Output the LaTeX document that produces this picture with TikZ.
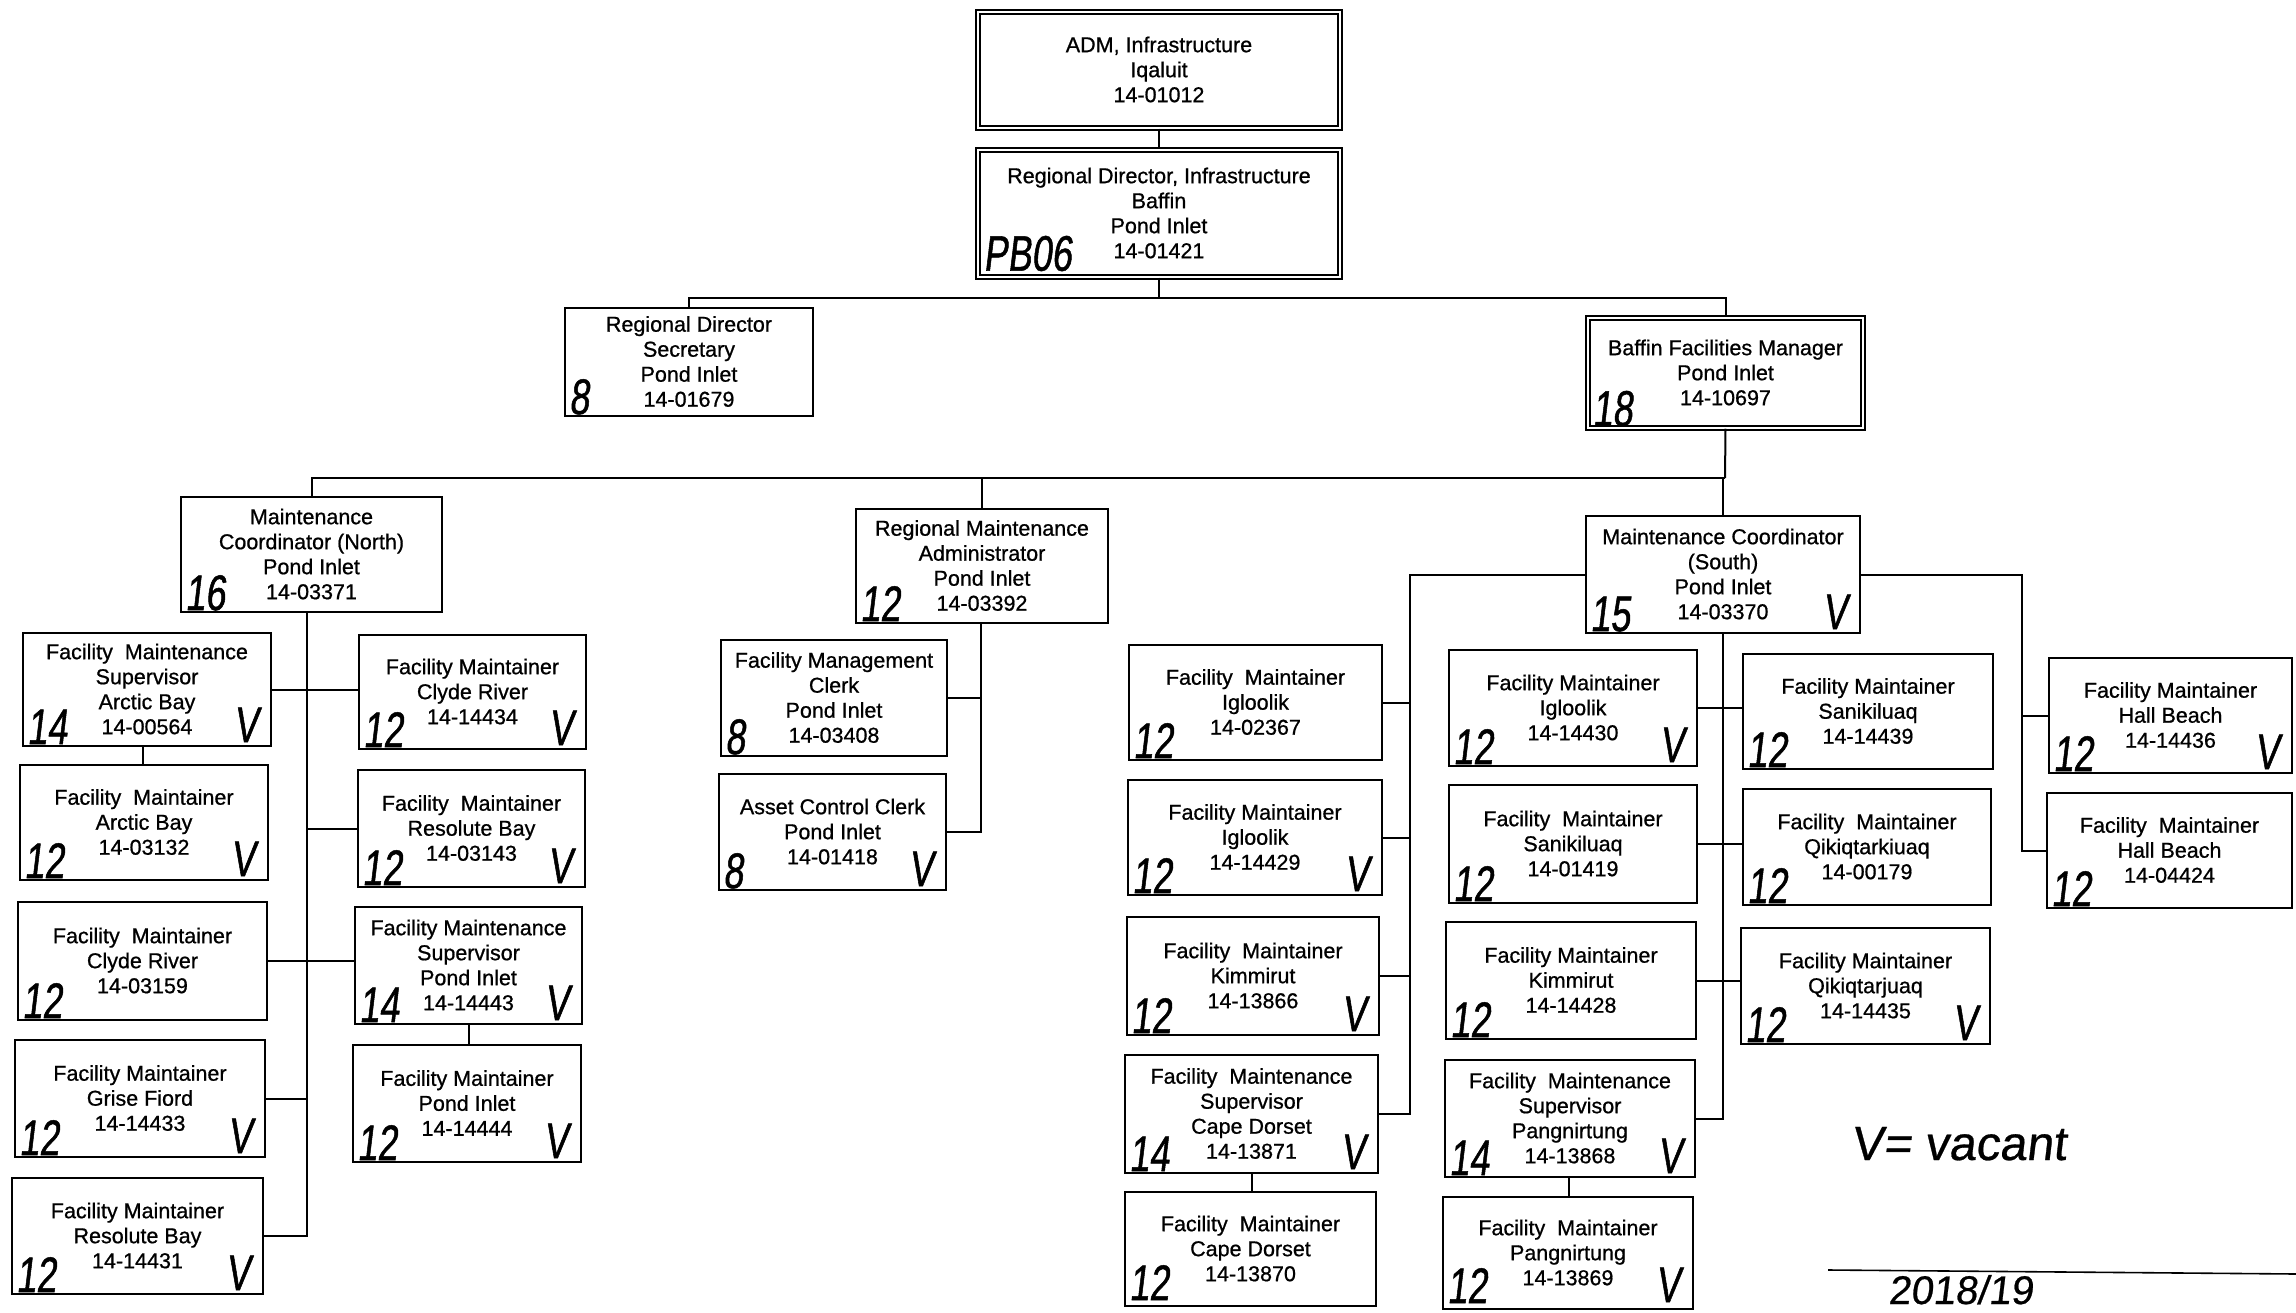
\documentclass[tikz,border=0pt]{standalone}
\usepackage{fontspec}
\setmainfont[FakeBold=0.8]{Liberation Sans}
\newfontfamily\hwfont[FakeSlant=0.12,FakeStretch=0.72,FakeBold=1]{Liberation Sans}
\newfontfamily\hwwide[FakeSlant=0.12,FakeBold=0.6]{Liberation Sans}
\usetikzlibrary{fit,calc}
\tikzset{
  box/.style={draw, line width=2.2pt, inner sep=0pt},
  dbox/.style={box, double, double distance=2.5pt, line width=1.5pt},
  txt/.style={inner sep=0pt, align=center, font=\fontsize{21.5}{25}\selectfont},
  conn/.style={line width=2pt},
  hw/.style={inner sep=0pt, font=\hwfont\fontsize{50}{50}\selectfont},
  hwbig/.style={inner sep=0pt, font=\hwwide\fontsize{48}{48}\selectfont},
}
% name, corner1, corner2, text, style
\newcommand\obox[5][box]{\node[#1, fit={#3 #4}] (#2) {};
  \node[txt] (#2-t) at ([yshift=0.5pt]#2.center) {#5};}
\newcommand\grade[2]{\node[hw, anchor=base west] (#1-g) at ($(#1.south west)+(5,-3)$) {#2};}
\newcommand\vac[1]{\node[hw, anchor=base east] (#1-v) at ($(#1.south east)+(-14,-5)$) {V};}
\newcommand\gradeup[2]{\node[hw, anchor=base west] (#1-g) at ($(#1.south west)+(5,-7)$) {#2};}
\newcommand\vacup[1]{\node[hw, anchor=base east] (#1-v) at ($(#1.south east)+(-14,-8)$) {V};}
\begin{document}
\begin{tikzpicture}[x=1pt,y=-1pt]
\useasboundingbox (0,0) rectangle (2296,1313);
\fill[white] (0,0) rectangle (2296,1313);

% ---- top levels
\obox[dbox]{adm}{(978,12)}{(1340,128)}{ADM, Infrastructure\\Iqaluit\\14-01012}
\obox[dbox]{rd}{(978,150)}{(1340,277)}{Regional Director, Infrastructure\\Baffin\\Pond Inlet\\14-01421}
\node[hw, anchor=base west] (rd-g) at ($(rd.south west)+(6,-7)$) {PB06};
\obox{sec}{(565,308)}{(813,416)}{Regional Director\\Secretary\\Pond Inlet\\14-01679}
\grade{sec}{8}
\obox[dbox]{bfm}{(1588,318)}{(1863,428)}{Baffin Facilities Manager\\Pond Inlet\\14-10697}
\grade{bfm}{18}

% ---- level 3
\obox{mcn}{(181,497)}{(442,612)}{Maintenance\\Coordinator (North)\\Pond Inlet\\14-03371}
\grade{mcn}{16}
\obox{rma}{(856,509)}{(1108,623)}{Regional Maintenance\\Administrator\\Pond Inlet\\14-03392}
\grade{rma}{12}
\obox{mcs}{(1586,516)}{(1860,633)}{Maintenance Coordinator\\(South)\\Pond Inlet\\14-03370}
\grade{mcs}{15}\vac{mcs}

% ---- north group
\obox{n1}{(23,633)}{(271,746)}{Facility\ \ Maintenance\\Supervisor\\Arctic Bay\\14-00564}
\grade{n1}{14}\vac{n1}
\obox{n2}{(20,765)}{(268,880)}{Facility\ \ Maintainer\\Arctic Bay\\14-03132}
\grade{n2}{12}\vac{n2}
\obox{n3}{(18,902)}{(267,1020)}{Facility\ \ Maintainer\\Clyde River\\14-03159}
\grade{n3}{12}
\obox{n4}{(15,1040)}{(265,1157)}{Facility Maintainer\\Grise Fiord\\14-14433}
\grade{n4}{12}\vac{n4}
\obox{n5}{(12,1178)}{(263,1294)}{Facility Maintainer\\Resolute Bay\\14-14431}
\grade{n5}{12}\vac{n5}
\obox{n6}{(359,635)}{(586,749)}{Facility Maintainer\\Clyde River\\14-14434}
\grade{n6}{12}\vac{n6}
\obox{n7}{(358,770)}{(585,887)}{Facility\ \ Maintainer\\Resolute Bay\\14-03143}
\grade{n7}{12}\vac{n7}
\obox{n8}{(355,907)}{(582,1024)}{Facility Maintenance\\Supervisor\\Pond Inlet\\14-14443}
\grade{n8}{14}\vac{n8}
\obox{n9}{(353,1045)}{(581,1162)}{Facility Maintainer\\Pond Inlet\\14-14444}
\grade{n9}{12}\vac{n9}

% ---- admin group
\obox{r1}{(721,640)}{(947,756)}{Facility Management\\Clerk\\Pond Inlet\\14-03408}
\grade{r1}{8}
\obox{r2}{(719,774)}{(946,890)}{Asset Control Clerk\\Pond Inlet\\14-01418}
\grade{r2}{8}\vac{r2}

% ---- south group
\obox{s1}{(1129,645)}{(1382,760)}{Facility\ \ Maintainer\\Igloolik\\14-02367}
\grade{s1}{12}
\obox{s2}{(1128,780)}{(1382,895)}{Facility Maintainer\\Igloolik\\14-14429}
\grade{s2}{12}\vac{s2}
\obox{s3}{(1127,917)}{(1379,1035)}{Facility\ \ Maintainer\\Kimmirut\\14-13866}
\grade{s3}{12}\vac{s3}
\obox{s4}{(1125,1055)}{(1378,1173)}{Facility\ \ Maintenance\\Supervisor\\Cape Dorset\\14-13871}
\grade{s4}{14}\vac{s4}
\obox{s5}{(1125,1192)}{(1376,1306)}{Facility\ \ Maintainer\\Cape Dorset\\14-13870}
\gradeup{s5}{12}
\obox{s6}{(1449,650)}{(1697,766)}{Facility Maintainer\\Igloolik\\14-14430}
\grade{s6}{12}\vac{s6}
\obox{s7}{(1449,785)}{(1697,903)}{Facility\ \ Maintainer\\Sanikiluaq\\14-01419}
\grade{s7}{12}
\obox{s8}{(1446,922)}{(1696,1039)}{Facility Maintainer\\Kimmirut\\14-14428}
\grade{s8}{12}
\obox{s9}{(1445,1060)}{(1695,1177)}{Facility\ \ Maintenance\\Supervisor\\Pangnirtung\\14-13868}
\grade{s9}{14}\vac{s9}
\obox{s10}{(1443,1197)}{(1693,1309)}{Facility\ \ Maintainer\\Pangnirtung\\14-13869}
\gradeup{s10}{12}\vacup{s10}
\obox{s11}{(1743,654)}{(1993,769)}{Facility Maintainer\\Sanikiluaq\\14-14439}
\grade{s11}{12}
\obox{s12}{(1743,789)}{(1991,905)}{Facility\ \ Maintainer\\Qikiqtarkiuaq\\14-00179}
\grade{s12}{12}
\obox{s13}{(1741,928)}{(1990,1044)}{Facility Maintainer\\Qikiqtarjuaq\\14-14435}
\grade{s13}{12}\vac{s13}
\obox{s14}{(2049,658)}{(2292,773)}{Facility Maintainer\\Hall Beach\\14-14436}
\grade{s14}{12}\vac{s14}
\obox{s15}{(2047,793)}{(2292,908)}{Facility\ \ Maintainer\\Hall Beach\\14-04424}
\grade{s15}{12}

% ---- connectors
\coordinate (j1) at (1159,298);
\coordinate (j2) at (1725,478);
\coordinate (nt) at (307,0);
\coordinate (rt) at (981,0);
\coordinate (sl) at (1410,0);
\coordinate (sr) at (2022,0);

\draw[conn] (adm.south) -- (rd.north);
\draw[conn] (rd.south) -- (j1);
\draw[conn] (sec.north) |- (j1) -| (bfm.north);
\draw[conn] (bfm.south) -- (j2);
\draw[conn] (mcn.north) |- (j2);
\draw[conn] (rma.north) -- (rma.north |- j2);
\draw[conn] (mcs.north) -- (mcs.north |- j2);

% north
\draw[conn] (mcn.south -| nt) -- (n5.east -| nt) -- (n5.east);
\draw[conn] (n1.east) -- (n1.east -| n6.west);
\draw[conn] (n7.west) -- (n7.west -| nt);
\draw[conn] (n3.east) -- (n3.east -| n8.west);
\draw[conn] (n4.east) -- (n4.east -| nt);
\draw[conn] (n1.south -| 143,0) -- (n2.north -| 143,0);
\draw[conn] (n8.south -| 469,0) -- (n9.north -| 469,0);

% admin
\draw[conn] (rma.south -| rt) -- (r2.east -| rt) -- (r2.east);
\draw[conn] (r1.east) -- (r1.east -| rt);

% south left
\draw[conn] (mcs.west) -- (mcs.west -| sl) -- (s4.east -| sl) -- (s4.east);
\draw[conn] (s1.east) -- (s1.east -| sl);
\draw[conn] (s2.east) -- (s2.east -| sl);
\draw[conn] (s3.east) -- (s3.east -| sl);
\draw[conn] (s4.south -| 1252,0) -- (s5.north -| 1252,0);
% south middle
\draw[conn] (mcs.south) -- (mcs.south |- s9.east) -- (s9.east);
\draw[conn] (s6.east) -- (s6.east -| s11.west);
\draw[conn] (s7.east) -- (s7.east -| s12.west);
\draw[conn] (s8.east) -- (s8.east -| s13.west);
\draw[conn] (s9.south -| 1569,0) -- (s10.north -| 1569,0);
% south right
\draw[conn] (mcs.east) -- (mcs.east -| sr) -- (s15.west -| sr) -- (s15.west);
\draw[conn] (s14.west) -- (s14.west -| sr);

% ---- legend
\node[hwbig, anchor=base west] (legend) at (1851,1160) {V= vacant};
\draw[line width=1.6pt] (1828,1270) -- (2296,1274);
\node[inner sep=0pt, anchor=base west, font=\hwwide\fontsize{40}{40}\selectfont] (year) at (1888,1304) {2018/19};
\end{tikzpicture}
\end{document}
